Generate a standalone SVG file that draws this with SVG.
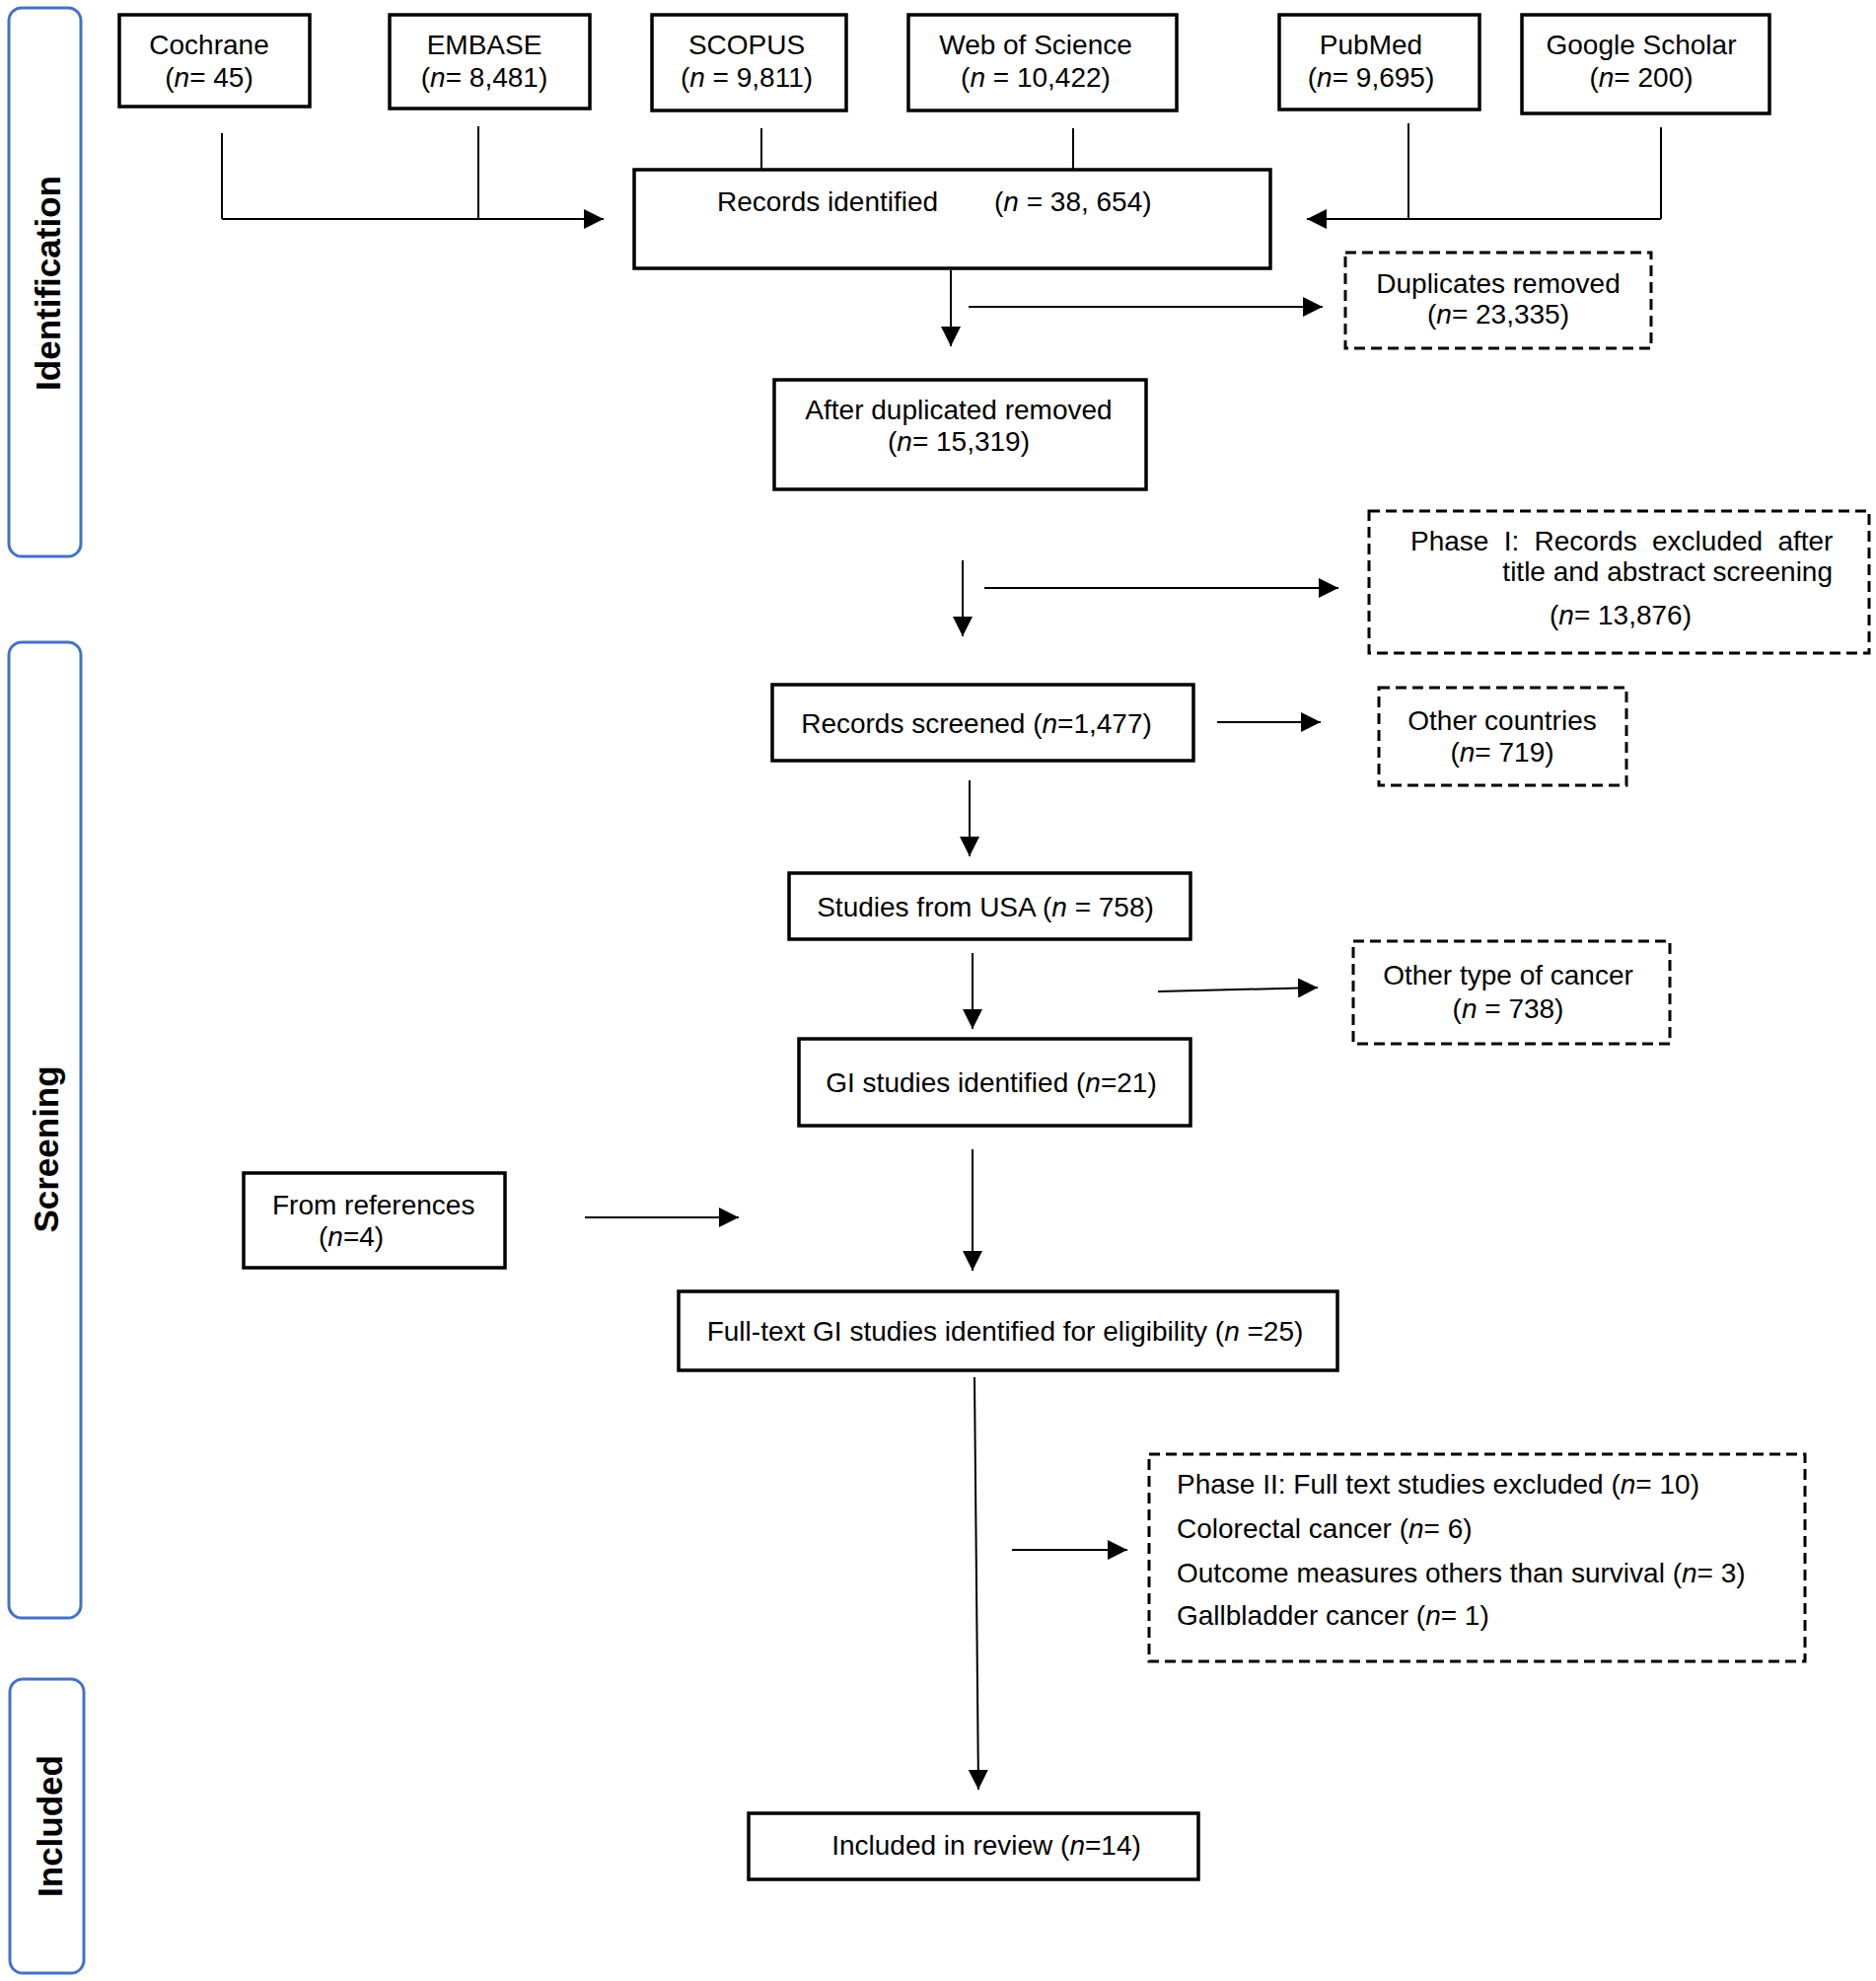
<svg xmlns="http://www.w3.org/2000/svg" width="1902" height="2008" viewBox="0 0 1902 2008">
<defs>
<marker id="arr" viewBox="0 0 20 20" refX="20" refY="10" markerWidth="20" markerHeight="20" markerUnits="userSpaceOnUse" orient="auto"><path d="M0,0 L20,10 L0,20 z" fill="#000"/></marker>
<style>
text{font-family:"Liberation Sans",Arial,sans-serif;font-size:28px;fill:#000}
.c{text-anchor:middle}
.e{text-anchor:end}
.i{font-style:italic}
.box{fill:#fff;stroke:#000;stroke-width:3.5}
.dash{fill:#fff;stroke:#000;stroke-width:3;stroke-dasharray:11 6}
.phase{fill:#fff;stroke:#4472C4;stroke-width:3}
.ph{font-weight:bold;font-size:35px;text-anchor:middle}
.ln{fill:none;stroke:#000;stroke-width:2}
.ar{fill:none;stroke:#000;stroke-width:2;marker-end:url(#arr)}
</style>
</defs>
<rect width="1902" height="2008" fill="#fff"/>

<g id="phase-identification"><rect class="phase" x="9" y="8" width="73" height="556" rx="13"/><text class="ph" x="61" y="287" transform="rotate(-90 61 287)">Identification</text></g>
<g id="phase-screening"><rect class="phase" x="9" y="651" width="73" height="989" rx="13"/><text class="ph" x="59" y="1165" transform="rotate(-90 59 1165)">Screening</text></g>
<g id="phase-included"><rect class="phase" x="10" y="1702" width="75" height="298" rx="13"/><text class="ph" x="63" y="1851" transform="rotate(-90 63 1851)">Included</text></g>

<g id="connectors">
<path class="ln" d="M225,135 V222"/>
<path class="ln" d="M485,128 V222"/>
<path class="ar" d="M225,222 H612"/>
<path class="ln" d="M772,130 V172"/>
<path class="ln" d="M1088,130 V172"/>
<path class="ln" d="M1428,125 V222"/>
<path class="ln" d="M1684,129 V222"/>
<path class="ar" d="M1684,222 H1325"/>
<path class="ar" d="M964,274 V351"/>
<path class="ar" d="M982,311 H1341"/>
<path class="ar" d="M976,568 V645"/>
<path class="ar" d="M998,596 H1357"/>
<path class="ar" d="M983,791 V868"/>
<path class="ar" d="M1234,732 H1339"/>
<path class="ar" d="M986,966 V1043"/>
<path class="ar" d="M1174,1005 L1336,1001"/>
<path class="ar" d="M986,1165 V1288"/>
<path class="ar" d="M593,1234 H749"/>
<path class="ar" d="M988,1396 L992,1814"/>
<path class="ar" d="M1026,1571 H1143"/>
</g>

<g id="cochrane"><rect class="box" x="121" y="15" width="193" height="93"/><text class="c" x="212" y="55">Cochrane</text><text class="c" x="212" y="88">(<tspan class="i">n</tspan>= 45)</text></g>
<g id="embase"><rect class="box" x="395" y="15" width="203" height="95"/><text class="c" x="491" y="55">EMBASE</text><text class="c" x="491" y="88">(<tspan class="i">n</tspan>= 8,481)</text></g>
<g id="scopus"><rect class="box" x="661" y="15" width="197" height="97"/><text class="c" x="757" y="55">SCOPUS</text><text class="c" x="757" y="88">(<tspan class="i">n</tspan> = 9,811)</text></g>
<g id="wos"><rect class="box" x="921" y="15" width="272" height="97"/><text class="c" x="1050" y="55">Web of Science</text><text class="c" x="1050" y="88">(<tspan class="i">n</tspan> = 10,422)</text></g>
<g id="pubmed"><rect class="box" x="1297" y="15" width="203" height="96"/><text class="c" x="1390" y="55">PubMed</text><text class="c" x="1390" y="88">(<tspan class="i">n</tspan>= 9,695)</text></g>
<g id="google"><rect class="box" x="1543" y="15" width="251" height="100"/><text class="c" x="1664" y="55">Google Scholar</text><text class="c" x="1664" y="88">(<tspan class="i">n</tspan>= 200)</text></g>

<g id="records-identified"><rect class="box" x="643" y="172" width="645" height="100"/><text x="727" y="214">Records identified</text><text x="1008" y="214">(<tspan class="i">n</tspan> = 38, 654)</text></g>
<g id="duplicates-removed"><rect class="dash" x="1364" y="256" width="310" height="97"/><text class="c" x="1519" y="297">Duplicates removed</text><text class="c" x="1519" y="328">(<tspan class="i">n</tspan>= 23,335)</text></g>
<g id="after-duplicates"><rect class="box" x="785" y="385" width="377" height="111"/><text class="c" x="972" y="425">After duplicated removed</text><text class="c" x="972" y="457">(<tspan class="i">n</tspan>= 15,319)</text></g>
<g id="phase1-excluded"><rect class="dash" x="1388" y="518" width="507" height="144"/><text x="1430" y="558" word-spacing="7.5">Phase I: Records excluded after</text><text class="e" x="1858" y="589">title and abstract screening</text><text class="c" x="1643" y="633">(<tspan class="i">n</tspan>= 13,876)</text></g>
<g id="records-screened"><rect class="box" x="783" y="694" width="427" height="77"/><text class="c" x="990" y="743">Records screened (<tspan class="i">n</tspan>=1,477)</text></g>
<g id="other-countries"><rect class="dash" x="1398" y="697" width="251" height="99"/><text class="c" x="1523" y="740">Other countries</text><text class="c" x="1523" y="772">(<tspan class="i">n</tspan>= 719)</text></g>
<g id="studies-usa"><rect class="box" x="800" y="885" width="407" height="67"/><text class="c" x="999" y="929">Studies from USA (<tspan class="i">n</tspan> = 758)</text></g>
<g id="other-cancer"><rect class="dash" x="1372" y="954" width="321" height="104"/><text class="c" x="1529" y="998">Other type of cancer</text><text class="c" x="1529" y="1032">(<tspan class="i">n</tspan> = 738)</text></g>
<g id="gi-studies"><rect class="box" x="810" y="1053" width="397" height="88"/><text class="c" x="1005" y="1107">GI studies identified (<tspan class="i">n</tspan>=21)</text></g>
<g id="from-references"><rect class="box" x="247" y="1189" width="265" height="96"/><text x="276" y="1231">From references</text><text x="323" y="1263">(<tspan class="i">n</tspan>=4)</text></g>
<g id="full-text"><rect class="box" x="688" y="1309" width="668" height="80"/><text class="c" x="1019" y="1359">Full-text GI studies identified for eligibility (<tspan class="i">n</tspan> =25)</text></g>
<g id="phase2-excluded"><rect class="dash" x="1165" y="1474" width="665" height="210"/><text x="1193" y="1514">Phase II: Full text studies excluded (<tspan class="i">n</tspan>= 10)</text><text x="1193" y="1559">Colorectal cancer (<tspan class="i">n</tspan>= 6)</text><text x="1193" y="1604">Outcome measures others than survival (<tspan class="i">n</tspan>= 3)</text><text x="1193" y="1647">Gallbladder cancer (<tspan class="i">n</tspan>= 1)</text></g>
<g id="included-review"><rect class="box" x="759" y="1838" width="456" height="67"/><text class="c" x="1000" y="1880">Included in review (<tspan class="i">n</tspan>=14)</text></g>
</svg>
